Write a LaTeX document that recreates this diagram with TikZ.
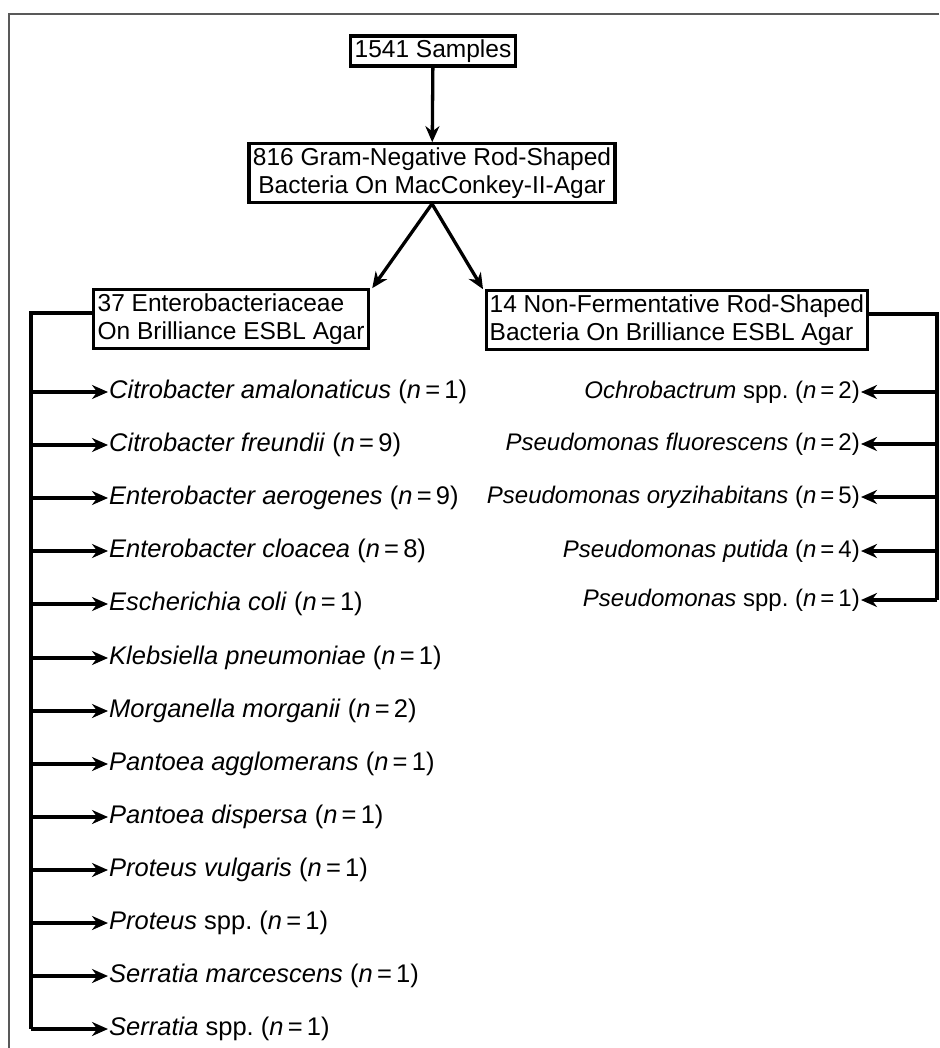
\documentclass[tikz,border=0pt]{standalone}
\usepackage{fontspec}
\setmainfont{Liberation Sans}
\usetikzlibrary{arrows.meta}
\frenchspacing

\tikzset{
  box/.style={draw=black, line width=3.3pt, inner xsep=4pt, inner ysep=3.5pt, font=\fontsize{24.5}{28.5}\selectfont},
  item/.style={inner sep=1pt, font=\fontsize{25.5}{29}\selectfont},
  ritem/.style={inner sep=1pt, font=\fontsize{24}{28}\selectfont},
  trunk/.style={line width=3.3pt},
  link/.style={line width=3.3pt, -{Stealth[length=16pt,width=14pt]}}
}

\begin{document}
\begin{tikzpicture}[x=1pt, y=-1pt]
                \useasboundingbox (0,0) rectangle (939,1048);

                %% frame
                \draw[black!65, line width=2pt] (939,14) -- (9,14) -- (9,1048);

                %% boxes
                \node[box] (samples) at (433,51) {1541 Samples};
                \node[box, align=center] (gramneg) at (432,173) {816 Gram-Negative Rod-Shaped\\Bacteria On MacConkey-II-Agar};
                \node[box, align=left, anchor=west] (entero) at (92,319) {37 Enterobacteriaceae\\On Brilliance ESBL Agar};
                \node[box, align=left, anchor=west, inner xsep=3pt] (nonferm) at (485,320) {14 Non-Fermentative Rod-Shaped\\Bacteria On Brilliance ESBL Agar};

                \draw[link] (samples) -- (gramneg);
                \draw[link] (gramneg.south) -- ([xshift=2pt]entero.north east);
                \draw[link] (gramneg.south) -- ([xshift=-2pt]nonferm.north west);

                %% Enterobacteriaceae
                \node[item, anchor=west] (e1)  at (108,392)  {\textit{Citrobacter amalonaticus} (\textit{n}\,=\,1)};
                \node[item, anchor=west] (e2)  at (108,445)  {\textit{Citrobacter freundii} (\textit{n}\,=\,9)};
                \node[item, anchor=west] (e3)  at (108,498)  {\textit{Enterobacter aerogenes} (\textit{n}\,=\,9)};
                \node[item, anchor=west] (e4)  at (108,551)  {\textit{Enterobacter cloacea} (\textit{n}\,=\,8)};
                \node[item, anchor=west] (e5)  at (108,604)  {\textit{Escherichia coli} (\textit{n}\,=\,1)};
                \node[item, anchor=west] (e6)  at (108,658)  {\textit{Klebsiella pneumoniae} (\textit{n}\,=\,1)};
                \node[item, anchor=west] (e7)  at (108,711)  {\textit{Morganella morganii} (\textit{n}\,=\,2)};
                \node[item, anchor=west] (e8)  at (108,764)  {\textit{Pantoea agglomerans} (\textit{n}\,=\,1)};
                \node[item, anchor=west] (e9)  at (108,817)  {\textit{Pantoea dispersa} (\textit{n}\,=\,1)};
                \node[item, anchor=west] (e10) at (108,870)  {\textit{Proteus vulgaris} (\textit{n}\,=\,1)};
                \node[item, anchor=west] (e11) at (108,923)  {\textit{Proteus} spp. (\textit{n}\,=\,1)};
                \node[item, anchor=west] (e12) at (108,976)  {\textit{Serratia marcescens} (\textit{n}\,=\,1)};
                \node[item, anchor=west] (e13) at (108,1029) {\textit{Serratia} spp. (\textit{n}\,=\,1)};

                \coordinate (eleft) at (31,313);
                \draw[trunk] ([yshift=6pt]entero.west) -- (eleft) -- (eleft |- e13);
                \draw[link] (eleft |- e1)  -- (e1.west);
                \draw[link] (eleft |- e2)  -- (e2.west);
                \draw[link] (eleft |- e3)  -- (e3.west);
                \draw[link] (eleft |- e4)  -- (e4.west);
                \draw[link] (eleft |- e5)  -- (e5.west);
                \draw[link] (eleft |- e6)  -- (e6.west);
                \draw[link] (eleft |- e7)  -- (e7.west);
                \draw[link] (eleft |- e8)  -- (e8.west);
                \draw[link] (eleft |- e9)  -- (e9.west);
                \draw[link] (eleft |- e10) -- (e10.west);
                \draw[link] (eleft |- e11) -- (e11.west);
                \draw[link] (eleft |- e12) -- (e12.west);
                \draw[link] (eleft |- e13) -- (e13.west);

                %% Non-fermentative
                \node[ritem, anchor=east] (p1) at (861,392) {\textit{Ochrobactrum} spp. (\textit{n}\,=\,2)};
                \node[ritem, anchor=east] (p2) at (861,444) {\textit{Pseudomonas fluorescens} (\textit{n}\,=\,2)};
                \node[ritem, anchor=east] (p3) at (861,497) {\textit{Pseudomonas oryzihabitans} (\textit{n}\,=\,5)};
                \node[ritem, anchor=east] (p4) at (861,551) {\textit{Pseudomonas putida} (\textit{n}\,=\,4)};
                \node[ritem, anchor=east] (p5) at (861,600) {\textit{Pseudomonas} spp. (\textit{n}\,=\,1)};

                \coordinate (pright) at (937,314);
                \draw[trunk] ([yshift=6pt]nonferm.east) -- (pright) -- (pright |- p5);
                \draw[link] (pright |- p1) -- (p1.east);
                \draw[link] (pright |- p2) -- (p2.east);
                \draw[link] (pright |- p3) -- (p3.east);
                \draw[link] (pright |- p4) -- (p4.east);
                \draw[link] (pright |- p5) -- (p5.east);

\end{tikzpicture}
\end{document}
